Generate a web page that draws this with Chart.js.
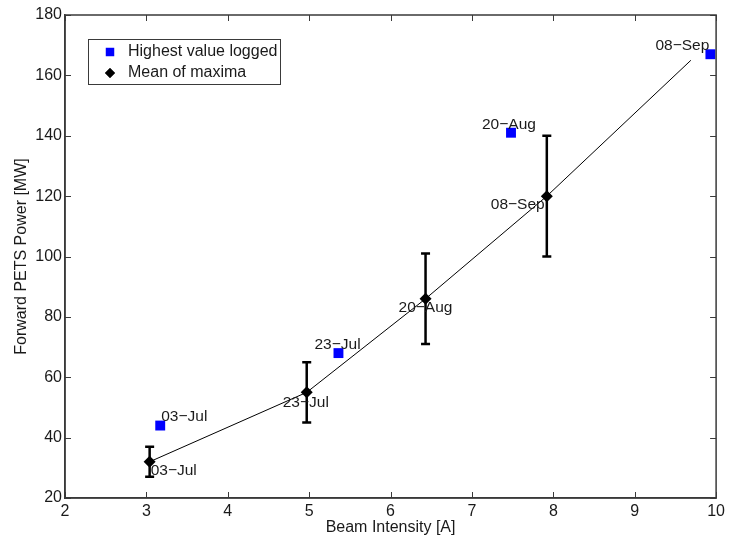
<!DOCTYPE html>
<html>
<head>
<meta charset="utf-8">
<script src="https://cdn.jsdelivr.net/npm/chart.js@4.4.1/dist/chart.umd.min.js"></script>
<style>
  html, body { margin: 0; padding: 0; background: #fff; }
  #wrap { width: 729px; height: 536px; }
</style>
</head>
<body>
<div id="wrap"><canvas id="powerChart" width="729" height="536"></canvas></div>
<script>
// Highest logged value per conditioning date
const highX = [3.17, 5.36, 7.48, 9.93];
const highY = [44, 68, 141, 167];
const highLabels = ['03\u2212Jul', '23\u2212Jul', '20\u2212Aug', '08\u2212Sep'];

// Mean of maxima with spread
const meanX = [3.04, 4.97, 6.43, 7.92];
const meanY = [32, 55, 86, 120];
const meanErr = [5, 10, 15, 20];
const meanLabels = ['03\u2212Jul', '23\u2212Jul', '20\u2212Aug', '08\u2212Sep'];

// Trend line through the means
const fitX = [3.04, 4.97, 6.43, 7.92, 9.69];
const fitY = [32, 55, 86, 120, 165];

// Axis ticks
const xTicks = [2, 3, 4, 5, 6, 7, 8, 9, 10];
const yTicks = [20, 40, 60, 80, 100, 120, 140, 160, 180];

const FONT = 'Liberation Sans, Arial, Helvetica, sans-serif';
const FONT_SIZE = 16;
const AXIS_COLOR = '#3a3a3a';
const TEXT_COLOR = '#1a1a1a';

const toPoints = (xs, ys) => xs.map((x, i) => ({ x: x, y: ys[i] }));

// Error bars for the mean dataset
const errorBars = {
    id: 'errorBars',
    afterDatasetsDraw(chart) {
        const ctx = chart.ctx;
        const xs = chart.scales.x, ys = chart.scales.y;
        ctx.save();
        ctx.strokeStyle = '#000';
        ctx.lineWidth = 2.5;
        meanX.forEach((x, i) => {
            const px = xs.getPixelForValue(x);
            const top = ys.getPixelForValue(meanY[i] + meanErr[i]);
            const bot = ys.getPixelForValue(meanY[i] - meanErr[i]);
            ctx.beginPath();
            ctx.moveTo(px, top); ctx.lineTo(px, bot);
            ctx.moveTo(px - 4.5, top); ctx.lineTo(px + 4.5, top);
            ctx.moveTo(px - 4.5, bot); ctx.lineTo(px + 4.5, bot);
            ctx.stroke();
        });
        ctx.restore();
    }
};

// Date labels next to the markers
const pointLabels = {
    id: 'pointLabels',
    afterDatasetsDraw(chart, args, opts) {
        const ctx = chart.ctx;
        ctx.save();
        ctx.font = '15.5px ' + FONT;
        ctx.fillStyle = TEXT_COLOR;
        ctx.textAlign = 'left';
        ctx.textBaseline = 'middle';
        opts.sets.forEach(set => {
            const meta = chart.getDatasetMeta(set.dataset);
            meta.data.forEach((el, i) => {
                const off = set.offsets[i];
                ctx.fillText(set.labels[i], el.x + off[0], el.y + off[1]);
            });
        });
        ctx.restore();
    }
};

// Box around the plot with inward ticks on all four sides
const frame = {
    id: 'frame',
    afterDraw(chart) {
        const ctx = chart.ctx;
        const a = chart.chartArea;
        const xs = chart.scales.x, ys = chart.scales.y;
        const len = 6;
        ctx.save();
        ctx.strokeStyle = AXIS_COLOR;
        ctx.lineWidth = 1;
        ctx.beginPath();
        xTicks.forEach(v => {
            const px = Math.round(xs.getPixelForValue(v)) + 0.5;
            ctx.moveTo(px, a.bottom); ctx.lineTo(px, a.bottom - len);
            ctx.moveTo(px, a.top); ctx.lineTo(px, a.top + len);
        });
        yTicks.forEach(v => {
            const py = Math.round(ys.getPixelForValue(v)) + 0.5;
            ctx.moveTo(a.left, py); ctx.lineTo(a.left + len, py);
            ctx.moveTo(a.right, py); ctx.lineTo(a.right - len, py);
        });
        ctx.stroke();
        ctx.lineWidth = 1.5;
        ctx.strokeRect(a.left, a.top, a.right - a.left, a.bottom - a.top);
        ctx.restore();
    }
};

// Legend box in the upper left corner of the plot
const boxLegend = {
    id: 'boxLegend',
    afterDraw(chart) {
        const ctx = chart.ctx;
        const a = chart.chartArea;
        const x0 = a.left + 23, y0 = a.top + 24, w = 192, h = 45;
        ctx.save();
        ctx.fillStyle = '#fff';
        ctx.fillRect(x0, y0, w, h);
        ctx.strokeStyle = AXIS_COLOR;
        ctx.lineWidth = 1;
        ctx.strokeRect(x0 + 0.5, y0 + 0.5, w, h);
        ctx.font = FONT_SIZE + 'px ' + FONT;
        ctx.textBaseline = 'middle';
        ctx.textAlign = 'left';
        [0, 1].forEach((d, row) => {
            const ds = chart.data.datasets[d];
            const cy = y0 + 13 + row * 21;
            const cx = x0 + 22;
            Chart.helpers.drawPoint(ctx, {
                pointStyle: ds.pointStyle,
                radius: ds.pointRadius - 1,
                borderWidth: 0
            }, cx, cy);
            ctx.fillStyle = ds.backgroundColor;
            ctx.fill();
            ctx.fillStyle = TEXT_COLOR;
            ctx.fillText(ds.label, x0 + 40, cy);
        });
        ctx.restore();
    }
};

new Chart(document.getElementById('powerChart'), {
    type: 'scatter',
    data: {
        datasets: [
            {
                label: 'Highest value logged',
                data: toPoints(highX, highY),
                pointStyle: 'rect',
                pointRadius: 7,
                backgroundColor: '#0000ff',
                borderWidth: 0
            },
            {
                label: 'Mean of maxima',
                data: toPoints(meanX, meanY),
                pointStyle: 'rectRot',
                pointRadius: 6,
                backgroundColor: '#000',
                borderWidth: 0
            },
            {
                label: 'fit',
                data: toPoints(fitX, fitY),
                showLine: true,
                borderColor: '#000',
                borderWidth: 1,
                pointRadius: 0,
                tension: 0,
                order: 5
            }
        ]
    },
    options: {
        responsive: false,
        animation: false,
        layout: { padding: { top: 15, right: 12, left: 0, bottom: 0 } },
        plugins: {
            legend: { display: false },
            tooltip: { enabled: false },
            pointLabels: {
                sets: [
                    { dataset: 0, labels: highLabels, offsets: [[1, -9], [-24, -8], [-29, -8], [-55, -9]] },
                    { dataset: 1, labels: meanLabels, offsets: [[1, 9], [-24, 10], [-27, 9], [-56, 9]] }
                ]
            }
        },
        scales: {
            x: {
                type: 'linear',
                min: 2,
                max: 10,
                afterFit: s => { s.height = 38; },
                afterBuildTicks: s => { s.ticks = xTicks.map(v => ({ value: v })); },
                grid: { display: false, tickLength: 0 },
                border: { display: true, color: AXIS_COLOR, width: 1.5 },
                ticks: { color: TEXT_COLOR, padding: 4, font: { family: FONT, size: FONT_SIZE } },
                title: {
                    display: true,
                    text: 'Beam Intensity [A]',
                    color: TEXT_COLOR,
                    padding: { top: 0, bottom: 0 },
                    font: { family: FONT, size: FONT_SIZE, lineHeight: 1.1 }
                }
            },
            y: {
                type: 'linear',
                min: 20,
                max: 180,
                afterFit: s => { s.width = 65; },
                afterBuildTicks: s => { s.ticks = yTicks.map(v => ({ value: v })); },
                grid: { display: false, tickLength: 0 },
                border: { display: true, color: AXIS_COLOR, width: 1.5 },
                ticks: { color: TEXT_COLOR, padding: 3, font: { family: FONT, size: FONT_SIZE } },
                title: {
                    display: true,
                    text: 'Forward PETS Power [MW]',
                    color: TEXT_COLOR,
                    padding: { top: 13, bottom: 0 },
                    font: { family: FONT, size: FONT_SIZE, lineHeight: 1.1 }
                }
            }
        }
    },
    plugins: [errorBars, pointLabels, frame, boxLegend]
});
</script>
</body>
</html>
